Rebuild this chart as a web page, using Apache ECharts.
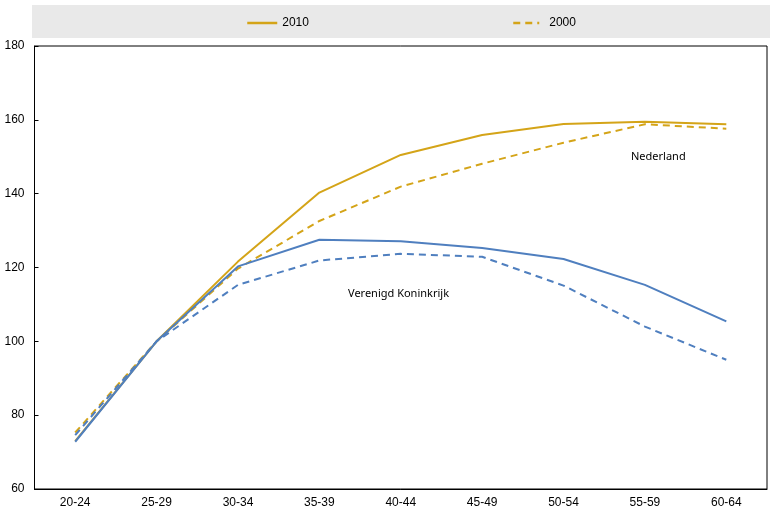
<!DOCTYPE html>
<html>
<head>
    <meta charset="UTF-8">
    <title>Nederland / Verenigd Koninkrijk</title>
    <script src="https://cdn.jsdelivr.net/npm/echarts@6/dist/echarts.min.js"></script>
</head>
<body style="margin:0">
<div id="chart" style="width:774px; height:512px;"></div>
<script>
    // leeftijdsgroepen
    var ageGroups = ['20-24', '25-29', '30-34', '35-39', '40-44', '45-49', '50-54', '55-59', '60-64'];
    var yTicks = [60, 80, 100, 120, 140, 160, 180];

    // Nederland
    var nl2010 = [73.0, 100, 121.6, 140.3, 150.5, 155.9, 158.9, 159.5, 158.8];
    var nl2000 = [75.3, 100, 119.7, 132.6, 141.9, 148.1, 153.8, 158.8, 157.6];
    // Verenigd Koninkrijk
    var uk2010 = [72.8, 100, 120.3, 127.5, 127.1, 125.3, 122.3, 115.3, 105.4];
    var uk2000 = [74.6, 100, 115.3, 121.9, 123.7, 122.9, 115.1, 104.0, 95.0];

    var gold = '#D4A418';
    var blue = '#4F7FBF';
    var narrow = '"Liberation Sans Narrow", "Arial Narrow", "Liberation Sans", sans-serif';

    function lineSerie(name, data, color, dashed) {
        return {
            name: name,
            type: 'line',
            data: data,
            symbol: 'none',
            showSymbol: false,
            silent: true,
            lineStyle: {color: color, width: 2, type: dashed ? [7, 5] : 'solid'},
            itemStyle: {color: color}
        };
    }

    var chart = echarts.init(document.getElementById('chart'), null, {renderer: 'canvas'});
    var option = {
        backgroundColor: '#fff',
        animation: false,
        grid: {
            left: 34.5,
            right: 7,
            top: 46,
            bottom: 23,
            show: true,
            borderColor: '#000',
            borderWidth: 1
        },
        legend: [
            {
                data: ['2010'], left: 241, top: 12, itemWidth: 30, itemHeight: 10, itemGap: 2,
                itemStyle: {opacity: 0},
                lineStyle: {width: 2.5},
                textStyle: {fontFamily: narrow, fontSize: 12, color: '#000'}
            },
            {
                data: ['2000'], left: 507, top: 12, itemWidth: 26, itemHeight: 10,
                itemStyle: {opacity: 0},
                lineStyle: {width: 2.5},
                textStyle: {fontFamily: narrow, fontSize: 12, color: '#000', padding: [0, 0, 0, 5]}
            }
        ],
        graphic: [
            {
                type: 'rect', z: -1, silent: true,
                shape: {x: 32, y: 5, width: 738, height: 33},
                style: {fill: '#E9E9E9'}
            },
            {
                type: 'text', left: 631, top: 151, silent: true,
                style: {text: 'Nederland', font: '11px "Noto Sans", sans-serif', fill: '#000'}
            },
            {
                type: 'text', left: 348, top: 288, silent: true,
                style: {text: 'Verenigd Koninkrijk', font: '11px "Noto Sans", sans-serif', fill: '#000'}
            }
        ],
        xAxis: {
            type: 'category',
            data: ageGroups,
            boundaryGap: true,
            axisLine: {lineStyle: {color: '#000'}},
            axisTick: {inside: true, length: 4, lineStyle: {color: '#000'}},
            axisLabel: {fontFamily: narrow, fontSize: 12, color: '#000', margin: 8},
            splitLine: {show: false}
        },
        yAxis: {
            type: 'value',
            min: yTicks[0],
            max: yTicks[yTicks.length - 1],
            interval: 20,
            axisLine: {show: true, lineStyle: {color: '#000'}},
            axisTick: {show: true, inside: true, length: 4, lineStyle: {color: '#000'}},
            axisLabel: {fontFamily: narrow, fontSize: 12, color: '#000', margin: 10},
            splitLine: {show: false}
        },
        series: [
            lineSerie('2010', nl2010, gold, false),
            lineSerie('2000', nl2000, gold, true),
            lineSerie('2010', uk2010, blue, false),
            lineSerie('2000', uk2000, blue, true)
        ]
    };
    chart.setOption(option);
</script>
</body>
</html>
